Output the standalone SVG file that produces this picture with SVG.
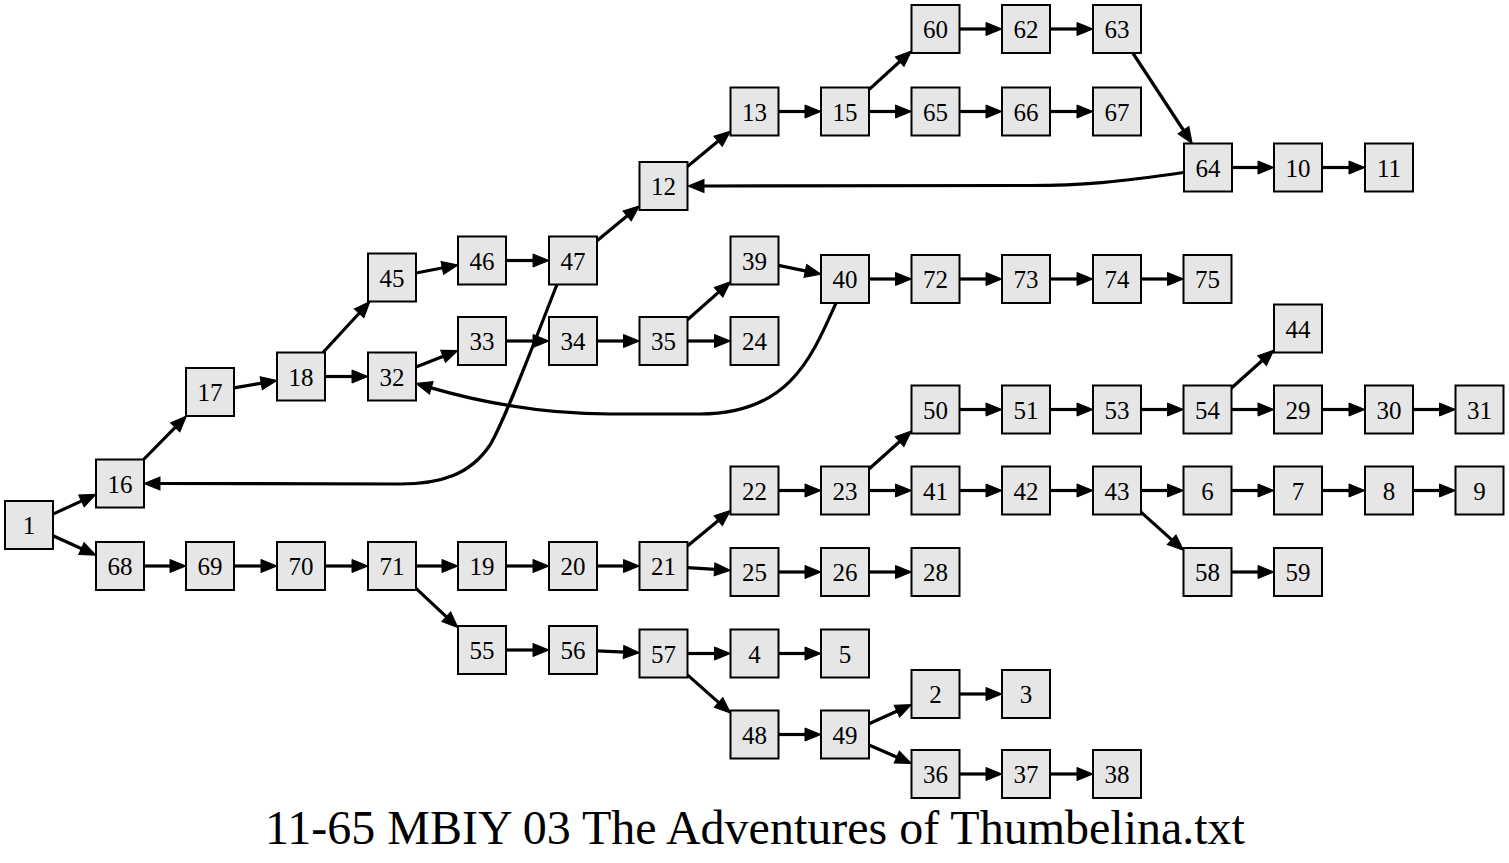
<svg xmlns="http://www.w3.org/2000/svg" width="1509" height="863" viewBox="0 0 1509 863">
<defs>
<marker id="ah" markerUnits="userSpaceOnUse" markerWidth="18" markerHeight="16" viewBox="0 -8 18 16" refX="1" refY="0" orient="auto" overflow="visible">
<path d="M0,-6.5 L16,0 L0,6.5 z" fill="#000" stroke="#000" stroke-width="1"/>
</marker>
<style>
.node rect{fill:#e6e6e6;stroke:#000;stroke-width:2}
.node text{font-family:"Liberation Serif","Times New Roman",serif;font-size:25px;text-anchor:middle;fill:#000}
#edges path{fill:none;stroke:#000;stroke-width:3.2;marker-end:url(#ah)}
.title{font-family:"Liberation Serif","Times New Roman",serif;font-size:48px;text-anchor:middle;fill:#000}
</style>
</defs>
<rect width="1509" height="863" fill="#fff"/>
<g id="edges">
<path d="M53,514.1 L82.35,500.6"/>
<path d="M53,535.8 L82.3,549"/>
<path d="M143.6,459.5 L175.9,426.7"/>
<path d="M234,387.9 L262.2,383.1"/>
<path d="M323,352.5 L359.8,312.5"/>
<path d="M325,376.5 L353,376.5"/>
<path d="M416,273 L443.3,267.8"/>
<path d="M506,260.5 L534,260.5"/>
<path d="M597,240.7 L627.9,215.3"/>
<path d="M687.5,166.4 L718.9,140.6"/>
<path d="M778.5,111.5 L806,111.5"/>
<path d="M869,89.6 L900.4,61"/>
<path d="M869,111.5 L896.5,111.5"/>
<path d="M959.5,29 L987,29"/>
<path d="M1050,29 L1078,29"/>
<path d="M1132.8,53 L1184,131"/>
<path d="M959.5,111.5 L987,111.5"/>
<path d="M1050,111.5 L1078,111.5"/>
<path d="M1232,167.5 L1259,167.5"/>
<path d="M1322,167.5 L1350,167.5"/>
<path d="M1183.5,172.5 C1120,182 1080,185.5 1030,185.5 L703,186"/>
<path d="M416,367 L444,356"/>
<path d="M506,341 L534,341"/>
<path d="M597,341 L624.5,341"/>
<path d="M687.5,319.8 L719.3,291.6"/>
<path d="M687.5,341 L715.5,341"/>
<path d="M778.5,265.4 L806.3,271.1"/>
<path d="M869,279 L896.5,279"/>
<path d="M959.5,279 L987,279"/>
<path d="M1050,279 L1078,279"/>
<path d="M1141,279 L1168.5,279"/>
<path d="M836,303 C812,356 790,414 700,414 L610,414 C540,414 480,402 430.3,387.6"/>
<path d="M557,284.5 C535,340 505,420 490,445 C470,475 440,484 400,484 L159,483.5"/>
<path d="M144,566 L171,566"/>
<path d="M234,566 L262,566"/>
<path d="M325,566 L353,566"/>
<path d="M416,566 L443,566"/>
<path d="M416,588.4 L447,617.4"/>
<path d="M506,566 L534,566"/>
<path d="M597,566 L624.5,566"/>
<path d="M687.5,546.1 L719,520"/>
<path d="M687.5,567.6 L715.5,569.4"/>
<path d="M778.5,490.5 L806,490.5"/>
<path d="M869,469 L900.3,441"/>
<path d="M869,490.5 L896.5,490.5"/>
<path d="M959.5,409.5 L987,409.5"/>
<path d="M1050,409.5 L1078,409.5"/>
<path d="M1141,409.5 L1168.5,409.5"/>
<path d="M1231.5,388 L1262.8,360"/>
<path d="M1231.5,409.5 L1259,409.5"/>
<path d="M1322,409.5 L1350,409.5"/>
<path d="M1413,409.5 L1440.5,409.5"/>
<path d="M959.5,490.5 L987,490.5"/>
<path d="M1050,490.5 L1078,490.5"/>
<path d="M1141,490.5 L1168.5,490.5"/>
<path d="M1141,512.1 L1172.4,540.4"/>
<path d="M1231.5,490.5 L1259,490.5"/>
<path d="M1322,490.5 L1350,490.5"/>
<path d="M1413,490.5 L1440.5,490.5"/>
<path d="M1231.5,572 L1259,572"/>
<path d="M778.5,572 L806,572"/>
<path d="M869,572 L896.5,572"/>
<path d="M506,650 L534,650"/>
<path d="M597,650.9 L624.5,652.1"/>
<path d="M687.5,653.5 L715.5,653.5"/>
<path d="M687.5,674.9 L719.3,703.1"/>
<path d="M778.5,653.5 L806,653.5"/>
<path d="M778.5,734.5 L806,734.5"/>
<path d="M869,723.8 L897.8,710.8"/>
<path d="M869,745 L897.7,757.5"/>
<path d="M959.5,694 L987,694"/>
<path d="M959.5,774 L987,774"/>
<path d="M1050,774 L1078,774"/>
</g>
<g id="n1" class="node"><rect x="5" y="501" width="48" height="48"/><text x="29" y="534">1</text></g>
<g id="n16" class="node"><rect x="96" y="459.5" width="48" height="48"/><text x="120" y="492.5">16</text></g>
<g id="n68" class="node"><rect x="96" y="542" width="48" height="48"/><text x="120" y="575">68</text></g>
<g id="n17" class="node"><rect x="186" y="368" width="48" height="48"/><text x="210" y="401">17</text></g>
<g id="n18" class="node"><rect x="277" y="352.5" width="48" height="48"/><text x="301" y="385.5">18</text></g>
<g id="n45" class="node"><rect x="368" y="253.5" width="48" height="48"/><text x="392" y="286.5">45</text></g>
<g id="n32" class="node"><rect x="368" y="352.5" width="48" height="48"/><text x="392" y="385.5">32</text></g>
<g id="n46" class="node"><rect x="458" y="236.5" width="48" height="48"/><text x="482" y="269.5">46</text></g>
<g id="n47" class="node"><rect x="549" y="236.5" width="48" height="48"/><text x="573" y="269.5">47</text></g>
<g id="n33" class="node"><rect x="458" y="317" width="48" height="48"/><text x="482" y="350">33</text></g>
<g id="n34" class="node"><rect x="549" y="317" width="48" height="48"/><text x="573" y="350">34</text></g>
<g id="n35" class="node"><rect x="639.5" y="317" width="48" height="48"/><text x="663.5" y="350">35</text></g>
<g id="n12" class="node"><rect x="639.5" y="162" width="48" height="48"/><text x="663.5" y="195">12</text></g>
<g id="n13" class="node"><rect x="730.5" y="87.5" width="48" height="48"/><text x="754.5" y="120.5">13</text></g>
<g id="n15" class="node"><rect x="821" y="87.5" width="48" height="48"/><text x="845" y="120.5">15</text></g>
<g id="n60" class="node"><rect x="911.5" y="5" width="48" height="48"/><text x="935.5" y="38">60</text></g>
<g id="n62" class="node"><rect x="1002" y="5" width="48" height="48"/><text x="1026" y="38">62</text></g>
<g id="n63" class="node"><rect x="1093" y="5" width="48" height="48"/><text x="1117" y="38">63</text></g>
<g id="n65" class="node"><rect x="911.5" y="87.5" width="48" height="48"/><text x="935.5" y="120.5">65</text></g>
<g id="n66" class="node"><rect x="1002" y="87.5" width="48" height="48"/><text x="1026" y="120.5">66</text></g>
<g id="n67" class="node"><rect x="1093" y="87.5" width="48" height="48"/><text x="1117" y="120.5">67</text></g>
<g id="n64" class="node"><rect x="1184" y="143.5" width="48" height="48"/><text x="1208" y="176.5">64</text></g>
<g id="n10" class="node"><rect x="1274" y="143.5" width="48" height="48"/><text x="1298" y="176.5">10</text></g>
<g id="n11" class="node"><rect x="1365" y="143.5" width="48" height="48"/><text x="1389" y="176.5">11</text></g>
<g id="n39" class="node"><rect x="730.5" y="236.5" width="48" height="48"/><text x="754.5" y="269.5">39</text></g>
<g id="n24" class="node"><rect x="730.5" y="317" width="48" height="48"/><text x="754.5" y="350">24</text></g>
<g id="n40" class="node"><rect x="821" y="255" width="48" height="48"/><text x="845" y="288">40</text></g>
<g id="n72" class="node"><rect x="911.5" y="255" width="48" height="48"/><text x="935.5" y="288">72</text></g>
<g id="n73" class="node"><rect x="1002" y="255" width="48" height="48"/><text x="1026" y="288">73</text></g>
<g id="n74" class="node"><rect x="1093" y="255" width="48" height="48"/><text x="1117" y="288">74</text></g>
<g id="n75" class="node"><rect x="1183.5" y="255" width="48" height="48"/><text x="1207.5" y="288">75</text></g>
<g id="n44" class="node"><rect x="1274" y="304.5" width="48" height="48"/><text x="1298" y="337.5">44</text></g>
<g id="n50" class="node"><rect x="911.5" y="385.5" width="48" height="48"/><text x="935.5" y="418.5">50</text></g>
<g id="n51" class="node"><rect x="1002" y="385.5" width="48" height="48"/><text x="1026" y="418.5">51</text></g>
<g id="n53" class="node"><rect x="1093" y="385.5" width="48" height="48"/><text x="1117" y="418.5">53</text></g>
<g id="n54" class="node"><rect x="1183.5" y="385.5" width="48" height="48"/><text x="1207.5" y="418.5">54</text></g>
<g id="n29" class="node"><rect x="1274" y="385.5" width="48" height="48"/><text x="1298" y="418.5">29</text></g>
<g id="n30" class="node"><rect x="1365" y="385.5" width="48" height="48"/><text x="1389" y="418.5">30</text></g>
<g id="n31" class="node"><rect x="1455.5" y="385.5" width="48" height="48"/><text x="1479.5" y="418.5">31</text></g>
<g id="n22" class="node"><rect x="730.5" y="466.5" width="48" height="48"/><text x="754.5" y="499.5">22</text></g>
<g id="n23" class="node"><rect x="821" y="466.5" width="48" height="48"/><text x="845" y="499.5">23</text></g>
<g id="n41" class="node"><rect x="911.5" y="466.5" width="48" height="48"/><text x="935.5" y="499.5">41</text></g>
<g id="n42" class="node"><rect x="1002" y="466.5" width="48" height="48"/><text x="1026" y="499.5">42</text></g>
<g id="n43" class="node"><rect x="1093" y="466.5" width="48" height="48"/><text x="1117" y="499.5">43</text></g>
<g id="n6" class="node"><rect x="1183.5" y="466.5" width="48" height="48"/><text x="1207.5" y="499.5">6</text></g>
<g id="n7" class="node"><rect x="1274" y="466.5" width="48" height="48"/><text x="1298" y="499.5">7</text></g>
<g id="n8" class="node"><rect x="1365" y="466.5" width="48" height="48"/><text x="1389" y="499.5">8</text></g>
<g id="n9" class="node"><rect x="1455.5" y="466.5" width="48" height="48"/><text x="1479.5" y="499.5">9</text></g>
<g id="n58" class="node"><rect x="1183.5" y="548" width="48" height="48"/><text x="1207.5" y="581">58</text></g>
<g id="n59" class="node"><rect x="1274" y="548" width="48" height="48"/><text x="1298" y="581">59</text></g>
<g id="n69" class="node"><rect x="186" y="542" width="48" height="48"/><text x="210" y="575">69</text></g>
<g id="n70" class="node"><rect x="277" y="542" width="48" height="48"/><text x="301" y="575">70</text></g>
<g id="n71" class="node"><rect x="368" y="542" width="48" height="48"/><text x="392" y="575">71</text></g>
<g id="n19" class="node"><rect x="458" y="542" width="48" height="48"/><text x="482" y="575">19</text></g>
<g id="n20" class="node"><rect x="549" y="542" width="48" height="48"/><text x="573" y="575">20</text></g>
<g id="n21" class="node"><rect x="639.5" y="542" width="48" height="48"/><text x="663.5" y="575">21</text></g>
<g id="n25" class="node"><rect x="730.5" y="548" width="48" height="48"/><text x="754.5" y="581">25</text></g>
<g id="n26" class="node"><rect x="821" y="548" width="48" height="48"/><text x="845" y="581">26</text></g>
<g id="n28" class="node"><rect x="911.5" y="548" width="48" height="48"/><text x="935.5" y="581">28</text></g>
<g id="n55" class="node"><rect x="458" y="626" width="48" height="48"/><text x="482" y="659">55</text></g>
<g id="n56" class="node"><rect x="549" y="626" width="48" height="48"/><text x="573" y="659">56</text></g>
<g id="n57" class="node"><rect x="639.5" y="629.5" width="48" height="48"/><text x="663.5" y="662.5">57</text></g>
<g id="n4" class="node"><rect x="730.5" y="629.5" width="48" height="48"/><text x="754.5" y="662.5">4</text></g>
<g id="n5" class="node"><rect x="821" y="629.5" width="48" height="48"/><text x="845" y="662.5">5</text></g>
<g id="n48" class="node"><rect x="730.5" y="710.5" width="48" height="48"/><text x="754.5" y="743.5">48</text></g>
<g id="n49" class="node"><rect x="821" y="710.5" width="48" height="48"/><text x="845" y="743.5">49</text></g>
<g id="n2" class="node"><rect x="911.5" y="670" width="48" height="48"/><text x="935.5" y="703">2</text></g>
<g id="n3" class="node"><rect x="1002" y="670" width="48" height="48"/><text x="1026" y="703">3</text></g>
<g id="n36" class="node"><rect x="911.5" y="750" width="48" height="48"/><text x="935.5" y="783">36</text></g>
<g id="n37" class="node"><rect x="1002" y="750" width="48" height="48"/><text x="1026" y="783">37</text></g>
<g id="n38" class="node"><rect x="1093" y="750" width="48" height="48"/><text x="1117" y="783">38</text></g>
<text class="title" x="755" y="844">11-65 MBIY 03 The Adventures of Thumbelina.txt</text>
</svg>
